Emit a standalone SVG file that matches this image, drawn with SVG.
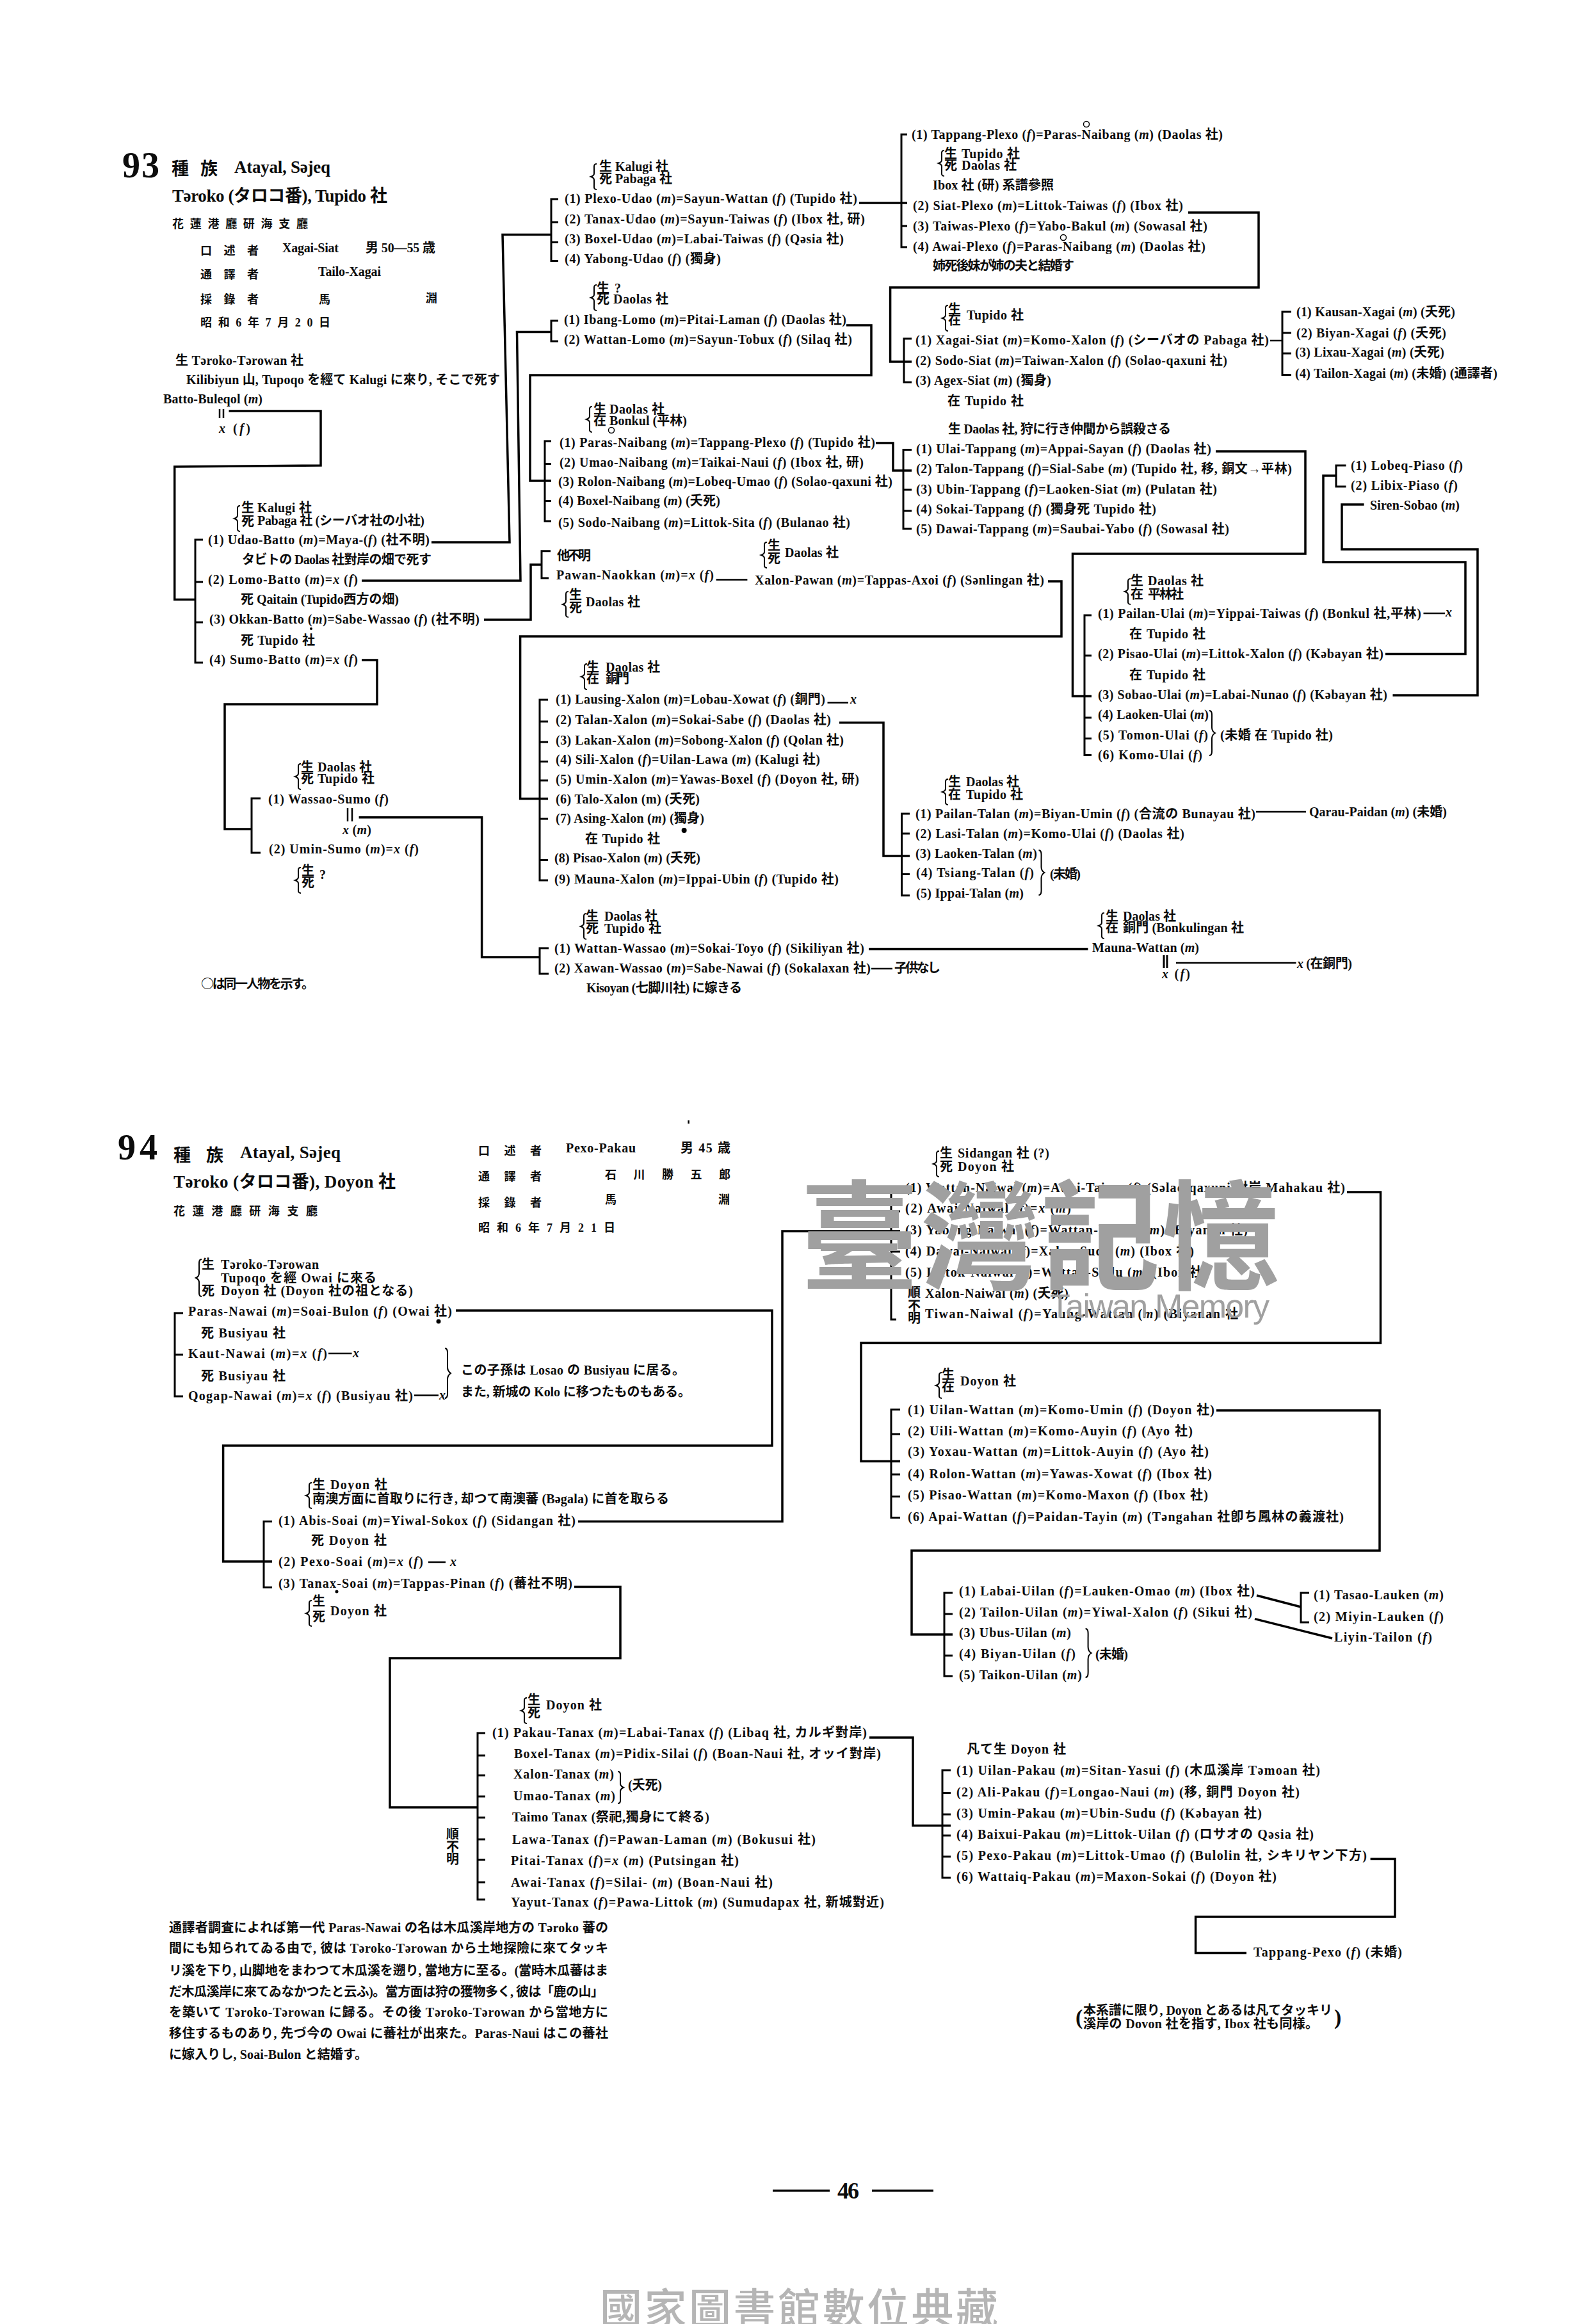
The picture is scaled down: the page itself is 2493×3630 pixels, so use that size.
<svg xmlns="http://www.w3.org/2000/svg" width="2493" height="3630" viewBox="0 0 2493 3630">
<style>
text{font-family:"Liberation Serif","Noto Sans CJK JP",serif;font-weight:700;font-size:20px;fill:#0c0c0c}
.i{font-style:italic}
.h{font-size:27px}
.m{font-size:18px}
.n{font-size:56px}
.c{stroke:#000;stroke-width:3.5;fill:none}
.b{stroke:#000;stroke-width:3;fill:none}
.l{stroke:#000;stroke-width:2.5;fill:none}
.wm{fill:#a0a0a0;font-family:"Noto Sans CJK TC",sans-serif}
.o{font-family:"Noto Sans CJK JP",sans-serif}
</style>
<defs>
<path id="lb" d="M6,-20 C1,-20 2,-16 2,-12 L2,-5 C2,-2 0,-1 -3,0 C0,1 2,2 2,5 L2,12 C2,16 1,20 6,20" stroke="#000" stroke-width="2" fill="none" vector-effect="non-scaling-stroke"/>
<path id="rb" d="M-3,-20 C2,-20 1,-16 1,-12 L1,-5 C1,-2 3,-1 6,0 C3,1 1,2 1,5 L1,12 C1,16 2,20 -3,20" stroke="#000" stroke-width="2" fill="none" vector-effect="non-scaling-stroke"/>
</defs>
<rect width="2493" height="3630" fill="#fff"/>

<g id="connectors">
<path class="c" d="M357.5,642 H501 V727 L272.7,729 V936.5 H305"/>
<path class="b" d="M317,843 H305 V1035 H317 M305,909 H317 M305,972 H317"/>
<path class="l" d="M343,639 V653 M349,639 V653"/>
<path class="c" d="M674,847 H796 L785,366.5 H862"/>
<path class="c" d="M565,907 H813 L807.5,518.6 H862"/>
<path class="c" d="M756,968 H829 V882 H846"/>
<path class="c" d="M565,1031 H589 V1100 H351 V1295 H393"/>
<path class="b" d="M872,311 H861 V407.6 H872 M861,347 H872 M861,378.6 H872"/>
<path class="b" d="M872,501 H861 V533 H872"/>
<path class="c" d="M1322,508 H1361 V586 H828 V751 H861"/>
<path class="b" d="M861,689 H851 V814 H861 M851,724.6 H861 M851,782.6 H861"/>
<path class="c" d="M1342,317 H1417"/>
<path class="b" d="M1417,210 H1408 V386 H1417 M1408,353 H1417"/>
<path class="c" d="M1856,332 H1966 V449 H1390.6 V565 H1424"/>
<path class="b" d="M1424,529 H1412 V597 H1424"/>
<path class="l" d="M1984,532 H2003"/>
<path class="b" d="M2017,487 H2003 V585.5 H2017 M2003,520 H2017 M2003,552 H2017"/>
<path class="c" d="M1368,692 H1395 V735 H1424"/>
<path class="b" d="M1424,702.6 H1411 V826 H1424 M1411,765 H1424 M1411,798 H1424"/>
<path class="c" d="M1899,705 H2039 V865 H1675.5 V1087.6 H1705"/>
<path class="b" d="M1705,961 H1694 V1179.4 H1705 M1694,1024 H1705 M1694,1121 H1705 M1694,1153.6 H1705"/>
<path class="c" d="M2164,1021.6 H2289 V878 H2067 V743 H2087"/>
<path class="b" d="M2102.5,727 H2087 V760 H2102.5"/>
<path class="c" d="M2130.6,788 H2096 V858 H2308 V1086 H2175.5"/>
<path class="l" d="M2223.5,958 H2257"/>
<path class="b" d="M860,860.7 H846 V903 H857"/>
<path class="l" d="M1118.6,905.5 H1167.4"/>
<path class="c" d="M1637,908 H1658 V994 H812.6 V1247.6 H856"/>
<path class="b" d="M856,1093 H843 V1375 H856 M843,1127 H856 M843,1159 H856 M843,1189.6 H856 M843,1219 H856 M843,1279 H856 M843,1343.5 H856"/>
<path class="l" d="M1292.5,1097.6 H1325"/>
<path class="c" d="M1311,1128.7 H1380 V1337 H1421"/>
<path class="b" d="M1421,1271 H1408.5 V1398.7 H1421 M1408.5,1302 H1421 M1408.5,1365.6 H1421"/>
<path class="l" d="M1962,1268 H2040"/>
<path class="c" d="M1357,1482.6 H1699.5"/>
<path class="l" d="M1361,1513 H1394"/>
<path class="b" d="M857,1481 H843 V1521 H857"/>
<path class="c" d="M560.6,1276.7 H752.6 V1495 H843"/>
<path class="l" d="M543,1262 V1283 M550,1262 V1283"/>
<path class="b" d="M1818,1492 V1512 M1823,1492 V1512"/>
<path class="l" d="M1837,1504 H2024.5"/>
<path class="b" d="M407,1247 H393 V1332 H407"/>
<path class="c" d="M712,2047 H1206 V2258 H348.6 V2439 H425"/>
<path class="b" d="M286,2051 H273 V2181 H286 M273,2116 H286"/>
<path class="l" d="M513,2114 H549.5 M647,2179.6 H685 M669,2440 H696"/>
<path class="b" d="M425,2376.5 H412 V2479.6 H425"/>
<path class="c" d="M903,2376.5 H1222 V1923 H1406"/>
<path class="c" d="M897,2478.6 H969 V2590 H609 V2823 H746"/>
<path class="b" d="M758,2707 H746 V2967 H758 M746,2742 H758 M746,2773 H758 M746,2806 H758 M746,2839 H758 M746,2873 H758 M746,2905 H758 M746,2940 H758"/>
<path class="c" d="M1358,2714 H1426 V2851.5 H1485"/>
<path class="b" d="M1485,2765 H1472 V2933 H1485 M1472,2800.5 H1485 M1472,2834 H1485 M1472,2867 H1485 M1472,2900 H1485"/>
<path class="c" d="M2140.6,2903.6 H2179 V2994 H1867.6 V3050.5 H1947"/>
<path class="b" d="M1406,1854 H1392 V2061 H1400 M1392,1892 H1406 M1392,1955 H1406 M1392,1985 H1406"/>
<path class="c" d="M2104,1862 H2156.5 V2097.5 H1345 V2282.5 H1406"/>
<path class="b" d="M1406,2201.7 H1392 V2370.6 H1406 M1392,2240 H1406 M1392,2303 H1406 M1392,2337.6 H1406"/>
<path class="c" d="M1900,2203 H2155 V2422 H1424 V2553 H1488"/>
<path class="b" d="M1488,2488 H1475 V2618 H1488 M1475,2521 H1488 M1475,2586 H1488"/>
<path class="c" d="M1963,2492 L2032,2510"/>
<path class="b" d="M2045,2488 H2032 V2534 H2045"/>
<path class="c" d="M1960,2528.6 L2081,2559"/>
<path class="c" d="M1207,3421.7 H1296 M1362,3421.7 H1458"/>
<path class="l" d="M1075.6,1750 V1755"/>
</g>

<g id="marks">
<circle cx="955" cy="672" r="4.5" class="l" style="stroke-width:1.5"/>
<circle cx="1697" cy="194" r="4.5" class="l" style="stroke-width:1.5"/>
<circle cx="1661" cy="371" r="4.5" class="l" style="stroke-width:1.5"/>
<circle cx="486" cy="982" r="2"/>
<circle cx="1068.6" cy="1297" r="4"/>
<circle cx="526" cy="2486" r="2.5"/>
<circle cx="685" cy="2064" r="3.5"/>
<use href="#lb" x="369" y="810"/><use href="#lb" x="926" y="276"/><use href="#lb" x="926" y="465"/><use href="#lb" x="919" y="655"/>
<use href="#lb" x="1469" y="255"/><use href="#lb" x="1475" y="497"/><use href="#lb" x="1760" y="924"/><use href="#lb" x="882" y="944"/>
<use href="#lb" x="1192" y="867"/><use href="#lb" x="911" y="1057"/><use href="#lb" x="1475" y="1237"/><use href="#lb" x="910" y="1447"/>
<use href="#lb" x="1719" y="1446"/><use href="#lb" x="464" y="1213"/><use href="#lb" x="464" y="1375"/>
<use href="#lb" transform="translate(309,1996) scale(1,1.45)"/>
<use href="#lb" x="481" y="2336"/><use href="#lb" x="481" y="2520"/><use href="#lb" x="1461" y="1818"/><use href="#lb" x="1465" y="2164"/><use href="#lb" x="817" y="2672"/>
<use href="#rb" transform="translate(1892,1145) scale(1,1.75)"/>
<use href="#rb" transform="translate(1625.5,1363) scale(1,1.75)"/>
<use href="#rb" transform="translate(698,2145) scale(1,1.95)"/>
<use href="#rb" transform="translate(1698.6,2582) scale(1,1.9)"/>
<use href="#rb" transform="translate(968,2792) scale(1,1.25)"/>
</g>

<g id="title-93">
<text class="n" x="191" y="277" textLength="58">93</text>
<text class="h" x="268" y="273" textLength="72">種族</text>
<text class="h" x="366" y="270" textLength="150">Atayal, Səjeq</text>
<text class="h" x="269" y="315" textLength="336">Təroko (タロコ番), Tupido 社</text>
<text class="m" x="269" y="356" textLength="212">花蓮港廳研海支廳</text>
<text class="m" x="313" y="398" textLength="91">口述者</text>
<text x="441" y="394" textLength="88">Xagai-Siat</text>
<text x="571" y="394" textLength="109">男 50—55 歳</text>
<text class="m" x="313" y="435" textLength="91">通譯者</text>
<text x="497" y="431" textLength="98">Tailo-Xagai</text>
<text class="m" x="313" y="474" textLength="91">採錄者</text>
<text class="m" x="498" y="474">馬</text>
<text class="m" x="665" y="472">淵</text>
<text class="m" x="313" y="510" textLength="203">昭和6年7月20日</text>
</g>

<g id="n-batto">
<text x="274" y="570" textLength="200">生 Təroko-Tərowan 社</text>
<text x="291" y="600" textLength="490">Kilibiyun 山, Tupoqo を經て Kalugi に來り, そこで死す</text>
<text x="255" y="630" textLength="155">Batto-Buleqol (<tspan class="i">m</tspan>)</text>
<text x="342" y="676" textLength="49"><tspan class="i">x</tspan> (<tspan class="i">f</tspan>)</text>
</g>
<g id="n-batto-children">
<text x="377" y="800">生</text><text x="377" y="821">死</text>
<text x="402" y="800" textLength="85">Kalugi 社</text>
<text x="402" y="820" textLength="261">Pabaga 社 (シーバオ社の小社)</text>
<text x="325" y="850" textLength="346">(1) Udao-Batto (<tspan class="i">m</tspan>)=Maya-(<tspan class="i">f</tspan>) (社不明)</text>
<text x="378" y="881" textLength="296">タビトの Daolas 社對岸の畑で死す</text>
<text x="325" y="912" textLength="234">(2) Lomo-Batto (<tspan class="i">m</tspan>)=<tspan class="i">x</tspan> (<tspan class="i">f</tspan>)</text>
<text x="376" y="943" textLength="247">死 Qaitain (Tupido西方の畑)</text>
<text x="327" y="974" textLength="422">(3) Okkan-Batto (<tspan class="i">m</tspan>)=Sabe-Wassao (<tspan class="i">f</tspan>) (社不明)</text>
<text x="376" y="1007" textLength="116">死 Tupido 社</text>
<text x="327" y="1037" textLength="232">(4) Sumo-Batto (<tspan class="i">m</tspan>)=<tspan class="i">x</tspan> (<tspan class="i">f</tspan>)</text>
</g>
<g id="n-udao">
<text x="936" y="267">生</text><text x="936" y="286">死</text>
<text x="961" y="267" textLength="83">Kalugi 社</text>
<text x="961" y="286" textLength="89">Pabaga 社</text>
<text x="882" y="317" textLength="457">(1) Plexo-Udao (<tspan class="i">m</tspan>)=Sayun-Wattan (<tspan class="i">f</tspan>) (Tupido 社)</text>
<text x="882" y="349" textLength="469">(2) Tanax-Udao (<tspan class="i">m</tspan>)=Sayun-Taiwas (<tspan class="i">f</tspan>) (Ibox 社, 研)</text>
<text x="882" y="380" textLength="436">(3) Boxel-Udao (<tspan class="i">m</tspan>)=Labai-Taiwas (<tspan class="i">f</tspan>) (Qəsia 社)</text>
<text x="882" y="411" textLength="244">(4) Yabong-Udao (<tspan class="i">f</tspan>) (獨身)</text>
</g>
<g id="n-lomo">
<text x="932" y="457">生</text><text x="932" y="474">死</text>
<text x="960" y="457">?</text>
<text x="958" y="474" textLength="86">Daolas 社</text>
<text x="881" y="506" textLength="441">(1) Ibang-Lomo (<tspan class="i">m</tspan>)=Pitai-Laman (<tspan class="i">f</tspan>) (Daolas 社)</text>
<text x="881" y="537" textLength="450">(2) Wattan-Lomo (<tspan class="i">m</tspan>)=Sayun-Tobux (<tspan class="i">f</tspan>) (Silaq 社)</text>
</g>
<g id="n-naibang">
<text x="927" y="646">生</text><text x="927" y="664">在</text>
<text x="952" y="646" textLength="86">Daolas 社</text>
<text x="952" y="664" textLength="121">Bonkul (平林)</text>
<text x="874" y="698" textLength="493">(1) Paras-Naibang (<tspan class="i">m</tspan>)=Tappang-Plexo (<tspan class="i">f</tspan>) (Tupido 社)</text>
<text x="874" y="729" textLength="475">(2) Umao-Naibang (<tspan class="i">m</tspan>)=Taikai-Naui (<tspan class="i">f</tspan>) (Ibox 社, 研)</text>
<text x="872" y="759" textLength="522">(3) Rolon-Naibang (<tspan class="i">m</tspan>)=Lobeq-Umao (<tspan class="i">f</tspan>) (Solao-qaxuni 社)</text>
<text x="872" y="789" textLength="253">(4) Boxel-Naibang (<tspan class="i">m</tspan>) (夭死)</text>
<text x="872" y="823" textLength="456">(5) Sodo-Naibang (<tspan class="i">m</tspan>)=Littok-Sita (<tspan class="i">f</tspan>) (Bulanao 社)</text>
</g>
<g id="n-plexo">
<text x="1424" y="217" textLength="486">(1) Tappang-Plexo (<tspan class="i">f</tspan>)=Paras-Naibang (<tspan class="i">m</tspan>) (Daolas 社)</text>
<text x="1475" y="247">生</text><text x="1475" y="265">死</text>
<text x="1502" y="247" textLength="91">Tupido 社</text>
<text x="1502" y="265" textLength="86">Daolas 社</text>
<text x="1457" y="296" textLength="189">Ibox 社 (研) 系譜參照</text>
<text x="1426" y="328" textLength="422">(2) Siat-Plexo (<tspan class="i">m</tspan>)=Littok-Taiwas (<tspan class="i">f</tspan>) (Ibox 社)</text>
<text x="1426" y="360" textLength="460">(3) Taiwas-Plexo (<tspan class="i">f</tspan>)=Yabo-Bakul (<tspan class="i">m</tspan>) (Sowasal 社)</text>
<text x="1426" y="392" textLength="457">(4) Awai-Plexo (<tspan class="i">f</tspan>)=Paras-Naibang (<tspan class="i">m</tspan>) (Daolas 社)</text>
<text x="1457" y="422" textLength="221">姉死後妹が姉の夫と結婚す</text>
</g>
<g id="n-siat">
<text x="1481" y="490">生</text><text x="1481" y="507">在</text>
<text x="1510" y="499" textLength="89">Tupido 社</text>
<text x="1430" y="538" textLength="552">(1) Xagai-Siat (<tspan class="i">m</tspan>)=Komo-Xalon (<tspan class="i">f</tspan>) (シーバオの Pabaga 社)</text>
<text x="1430" y="570" textLength="487">(2) Sodo-Siat (<tspan class="i">m</tspan>)=Taiwan-Xalon (<tspan class="i">f</tspan>) (Solao-qaxuni 社)</text>
<text x="1430" y="601" textLength="212">(3) Agex-Siat (<tspan class="i">m</tspan>) (獨身)</text>
<text x="1480" y="633" textLength="119">在 Tupido 社</text>
</g>
<g id="n-xagai">
<text x="2025" y="494" textLength="248">(1) Kausan-Xagai (<tspan class="i">m</tspan>) (夭死)</text>
<text x="2025" y="527" textLength="234">(2) Biyan-Xagai (<tspan class="i">f</tspan>) (夭死)</text>
<text x="2023" y="557" textLength="233">(3) Lixau-Xagai (<tspan class="i">m</tspan>) (夭死)</text>
<text x="2023" y="590" textLength="316">(4) Tailon-Xagai (<tspan class="i">m</tspan>) (未婚) (通譯者)</text>
</g>
<g id="n-tappang">
<text x="1481" y="677" textLength="348">生 Daolas 社, 狩に行き仲間から誤殺さる</text>
<text x="1431" y="708" textLength="461">(1) Ulai-Tappang (<tspan class="i">m</tspan>)=Appai-Sayan (<tspan class="i">f</tspan>) (Daolas 社)</text>
<text x="1431" y="739" textLength="587">(2) Talon-Tappang (<tspan class="i">f</tspan>)=Sial-Sabe (<tspan class="i">m</tspan>) (Tupido 社, 移, 銅文→平林)</text>
<text x="1431" y="771" textLength="470">(3) Ubin-Tappang (<tspan class="i">f</tspan>)=Laoken-Siat (<tspan class="i">m</tspan>) (Pulatan 社)</text>
<text x="1431" y="802" textLength="375">(4) Sokai-Tappang (<tspan class="i">f</tspan>) (獨身死 Tupido 社)</text>
<text x="1431" y="833" textLength="489">(5) Dawai-Tappang (<tspan class="i">m</tspan>)=Saubai-Yabo (<tspan class="i">f</tspan>) (Sowasal 社)</text>
</g>
<g id="n-piaso">
<text x="2110" y="734" textLength="175">(1) Lobeq-Piaso (<tspan class="i">f</tspan>)</text>
<text x="2110" y="765" textLength="167">(2) Libix-Piaso (<tspan class="i">f</tspan>)</text>
<text x="2140" y="796" textLength="140">Siren-Sobao (<tspan class="i">m</tspan>)</text>
</g>
<g id="n-ulai">
<text x="1766" y="914">生</text><text x="1766" y="935">在</text>
<text x="1793" y="914" textLength="87">Daolas 社</text>
<text x="1793" y="935" textLength="56">平林社</text>
<text x="1715" y="965" textLength="505">(1) Pailan-Ulai (<tspan class="i">m</tspan>)=Yippai-Taiwas (<tspan class="i">f</tspan>) (Bonkul 社,平林)</text>
<text x="2258" y="963"><tspan class="i">x</tspan></text>
<text x="1764" y="997" textLength="119">在 Tupido 社</text>
<text x="1715" y="1028" textLength="446">(2) Pisao-Ulai (<tspan class="i">m</tspan>)=Littok-Xalon (<tspan class="i">f</tspan>) (Kəbayan 社)</text>
<text x="1764" y="1061" textLength="119">在 Tupido 社</text>
<text x="1715" y="1092" textLength="452">(3) Sobao-Ulai (<tspan class="i">m</tspan>)=Labai-Nunao (<tspan class="i">f</tspan>) (Kəbayan 社)</text>
<text x="1715" y="1123" textLength="173">(4) Laoken-Ulai (<tspan class="i">m</tspan>)</text>
<text x="1715" y="1155" textLength="172">(5) Tomon-Ulai (<tspan class="i">f</tspan>)</text>
<text x="1715" y="1186" textLength="163">(6) Komo-Ulai (<tspan class="i">f</tspan>)</text>
<text x="1906" y="1155" textLength="176">(未婚 在 Tupido 社)</text>
</g>
<g id="n-pawan">
<text x="870" y="875" textLength="53">他不明</text>
<text x="869" y="905" textLength="246">Pawan-Naokkan (<tspan class="i">m</tspan>)=<tspan class="i">x</tspan> (<tspan class="i">f</tspan>)</text>
<text x="889" y="936">生</text><text x="889" y="956">死</text>
<text x="915" y="947" textLength="85">Daolas 社</text>
</g>
<g id="n-xalon-pawan">
<text x="1199" y="859">生</text><text x="1199" y="879">死</text>
<text x="1226" y="870" textLength="84">Daolas 社</text>
<text x="1179" y="913" textLength="452">Xalon-Pawan (<tspan class="i">m</tspan>)=Tappas-Axoi (<tspan class="i">f</tspan>) (Sənlingan 社)</text>
</g>
<g id="n-xalon">
<text x="916" y="1049">生</text><text x="916" y="1067">在</text>
<text x="946" y="1049" textLength="85">Daolas 社</text>
<text x="946" y="1067" textLength="37">銅門</text>
<text x="868" y="1099" textLength="421">(1) Lausing-Xalon (<tspan class="i">m</tspan>)=Lobau-Xowat (<tspan class="i">f</tspan>) (銅門)</text>
<text x="1328" y="1099"><tspan class="i">x</tspan></text>
<text x="868" y="1131" textLength="430">(2) Talan-Xalon (<tspan class="i">m</tspan>)=Sokai-Sabe (<tspan class="i">f</tspan>) (Daolas 社)</text>
<text x="868" y="1163" textLength="450">(3) Lakan-Xalon (<tspan class="i">m</tspan>)=Sobong-Xalon (<tspan class="i">f</tspan>) (Qolan 社)</text>
<text x="868" y="1193" textLength="413">(4) Sili-Xalon (<tspan class="i">f</tspan>)=Uilan-Lawa (<tspan class="i">m</tspan>) (Kalugi 社)</text>
<text x="868" y="1224" textLength="474">(5) Umin-Xalon (<tspan class="i">m</tspan>)=Yawas-Boxel (<tspan class="i">f</tspan>) (Doyon 社, 研)</text>
<text x="868" y="1255" textLength="225">(6) Talo-Xalon (m) (夭死)</text>
<text x="868" y="1285" textLength="232">(7) Asing-Xalon (<tspan class="i">m</tspan>) (獨身)</text>
<text x="914" y="1317" textLength="117">在 Tupido 社</text>
<text x="866" y="1347" textLength="228">(8) Pisao-Xalon (<tspan class="i">m</tspan>) (夭死)</text>
<text x="866" y="1380" textLength="444">(9) Mauna-Xalon (<tspan class="i">m</tspan>)=Ippai-Ubin (<tspan class="i">f</tspan>) (Tupido 社)</text>
</g>
<g id="n-talan">
<text x="1481" y="1228">生</text><text x="1481" y="1248">在</text>
<text x="1509" y="1228" textLength="83">Daolas 社</text>
<text x="1509" y="1248" textLength="89">Tupido 社</text>
<text x="1430" y="1278" textLength="531">(1) Pailan-Talan (<tspan class="i">m</tspan>)=Biyan-Umin (<tspan class="i">f</tspan>) (合流の Bunayau 社)</text>
<text x="1430" y="1309" textLength="420">(2) Lasi-Talan (<tspan class="i">m</tspan>)=Komo-Ulai (<tspan class="i">f</tspan>) (Daolas 社)</text>
<text x="1430" y="1340" textLength="190">(3) Laoken-Talan (<tspan class="i">m</tspan>)</text>
<text x="1431" y="1370" textLength="184">(4) Tsiang-Talan (<tspan class="i">f</tspan>)</text>
<text x="1431" y="1402" textLength="168">(5) Ippai-Talan (<tspan class="i">m</tspan>)</text>
<text x="1640" y="1372" textLength="48">(未婚)</text>
<text x="2045" y="1275" textLength="215">Qarau-Paidan (<tspan class="i">m</tspan>) (未婚)</text>
</g>
<g id="n-wassao">
<text x="915" y="1438">生</text><text x="915" y="1457">死</text>
<text x="944" y="1438" textLength="83">Daolas 社</text>
<text x="944" y="1457" textLength="89">Tupido 社</text>
<text x="866" y="1488" textLength="484">(1) Wattan-Wassao (<tspan class="i">m</tspan>)=Sokai-Toyo (<tspan class="i">f</tspan>) (Sikiliyan 社)</text>
<text x="866" y="1519" textLength="494">(2) Xawan-Wassao (<tspan class="i">m</tspan>)=Sabe-Nawai (<tspan class="i">f</tspan>) (Sokalaxan 社)</text>
<text x="1397" y="1519" textLength="72">子供なし</text>
<text x="916" y="1550" textLength="243">Kisoyan (七脚川社) に嫁きる</text>
</g>
<g id="n-mauna">
<text x="1727" y="1438">生</text><text x="1727" y="1456">在</text>
<text x="1754" y="1438" textLength="83">Daolas 社</text>
<text x="1754" y="1456" textLength="189">銅門 (Bonkulingan 社</text>
<text x="1706" y="1487" textLength="167">Mauna-Wattan (<tspan class="i">m</tspan>)</text>
<text x="1815" y="1528" textLength="44"><tspan class="i">x</tspan> (<tspan class="i">f</tspan>)</text>
<text x="2026" y="1512" textLength="86"><tspan class="i">x</tspan> (在銅門)</text>
</g>
<g id="n-sumo">
<text x="470" y="1205">生</text><text x="470" y="1223">死</text>
<text x="496" y="1205" textLength="85">Daolas 社</text>
<text x="496" y="1223" textLength="89">Tupido 社</text>
<text x="419" y="1255" textLength="188">(1) Wassao-Sumo (<tspan class="i">f</tspan>)</text>
<text x="535" y="1303" textLength="45"><tspan class="i">x</tspan> (<tspan class="i">m</tspan>)</text>
<text x="420" y="1333" textLength="234">(2) Umin-Sumo (<tspan class="i">m</tspan>)=<tspan class="i">x</tspan> (<tspan class="i">f</tspan>)</text>
<text x="471" y="1367">生</text><text x="471" y="1385">死</text>
<text x="499" y="1373">?</text>
</g>
<g id="note-93"><text class="o" x="314" y="1544" textLength="177">○は同一人物を示す。</text></g>

<g id="title-94">
<text class="n" x="184" y="1811" textLength="62">94</text>
<text class="h" x="271" y="1814" textLength="78">種族</text>
<text class="h" x="375" y="1809" textLength="157">Atayal, Səjeq</text>
<text class="h" x="271" y="1855" textLength="347">Təroko (タロコ番), Doyon 社</text>
<text class="m" x="271" y="1898" textLength="225">花蓮港廳研海支廳</text>
<text class="m" x="747" y="1804" textLength="99">口述者</text>
<text x="884" y="1800" textLength="109">Pexo-Pakau</text>
<text x="1063" y="1800" textLength="78">男 45 歳</text>
<text class="m" x="747" y="1844" textLength="99">通譯者</text>
<text class="m" x="945" y="1841" textLength="196">石川勝五郎</text>
<text class="m" x="747" y="1885" textLength="99">採錄者</text>
<text class="m" x="945" y="1880">馬</text>
<text class="m" x="1122" y="1880">淵</text>
<text class="m" x="747" y="1924" textLength="214">昭和6年7月21日</text>
</g>
<g id="n-nawai">
<text x="315" y="1982">生</text><text x="315" y="2023">死</text>
<text x="345" y="1982" textLength="153">Təroko-Tərowan</text>
<text x="345" y="2003" textLength="243">Tupoqo を經 Owai に來る</text>
<text x="345" y="2023" textLength="300">Doyon 社 (Doyon 社の祖となる)</text>
<text x="294" y="2055" textLength="412">Paras-Nawai (<tspan class="i">m</tspan>)=Soai-Bulon (<tspan class="i">f</tspan>) (Owai 社)</text>
<text x="314" y="2089" textLength="132">死 Busiyau 社</text>
<text x="294" y="2121" textLength="217">Kaut-Nawai (<tspan class="i">m</tspan>)=<tspan class="i">x</tspan> (<tspan class="i">f</tspan>)</text>
<text x="551" y="2120"><tspan class="i">x</tspan></text>
<text x="314" y="2156" textLength="132">死 Busiyau 社</text>
<text x="294" y="2187" textLength="351">Qogap-Nawai (<tspan class="i">m</tspan>)=<tspan class="i">x</tspan> (<tspan class="i">f</tspan>) (Busiyau 社)</text>
<text x="686" y="2186"><tspan class="i">x</tspan></text>
<text x="720" y="2147" textLength="350">この子孫は Losao の Busiyau に居る。</text>
<text x="720" y="2181" textLength="359">また, 新城の Kolo に移つたものもある。</text>
</g>
<g id="n-soai">
<text x="488" y="2326">生</text>
<text x="516" y="2326" textLength="89">Doyon 社</text>
<text x="488" y="2348" textLength="557">南澳方面に首取りに行き, 却つて南澳蕃 (Bəgala) に首を取らる</text>
<text x="435" y="2382" textLength="464">(1) Abis-Soai (<tspan class="i">m</tspan>)=Yiwal-Sokox (<tspan class="i">f</tspan>) (Sidangan 社)</text>
<text x="486" y="2413" textLength="118">死 Doyon 社</text>
<text x="435" y="2446" textLength="226">(2) Pexo-Soai (<tspan class="i">m</tspan>)=<tspan class="i">x</tspan> (<tspan class="i">f</tspan>)</text>
<text x="703" y="2446"><tspan class="i">x</tspan></text>
<text x="435" y="2480" textLength="459">(3) Tanax-Soai (<tspan class="i">m</tspan>)=Tappas-Pinan (<tspan class="i">f</tspan>) (蕃社不明)</text>
<text x="488" y="2508">生</text><text x="488" y="2532">死</text>
<text x="516" y="2523" textLength="88">Doyon 社</text>
</g>
<g id="n-naiwal">
<text x="1468" y="1808">生</text><text x="1468" y="1829">死</text>
<text x="1496" y="1808" textLength="143">Sidangan 社 (?)</text>
<text x="1496" y="1829" textLength="88">Doyon 社</text>
<text x="1414" y="1862" textLength="687">(1) Wattan-Naiwal (<tspan class="i">m</tspan>)=Awai-Taimo (<tspan class="i">f</tspan>) (Səlao-qaxuni 對岸 Mahakau 社)</text>
<text x="1414" y="1894" textLength="259">(2) Awai-Naiwal (<tspan class="i">f</tspan>)=<tspan class="i">x</tspan> (<tspan class="i">m</tspan>)</text>
<text x="1414" y="1928" textLength="535">(3) Yabong-Naiwal (<tspan class="i">f</tspan>)=Wattan-Kumai (<tspan class="i">m</tspan>) (Biyanan 社)</text>
<text x="1414" y="1961" textLength="451">(4) Dawai-Naiwal (<tspan class="i">f</tspan>)=Xalon-Sudu (<tspan class="i">m</tspan>) (Ibox 社)</text>
<text x="1414" y="1994" textLength="472">(5) Littok-Naiwal (<tspan class="i">f</tspan>)=Wattan-Sudu (<tspan class="i">m</tspan>) (Ibox 社)</text>
<text x="1418" y="2026">順</text><text x="1418" y="2047">不</text><text x="1418" y="2066">明</text>
<text x="1445" y="2027" textLength="224">Xalon-Naiwal (<tspan class="i">m</tspan>) (夭死)</text>
<text x="1445" y="2059" textLength="489">Tiwan-Naiwal (<tspan class="i">f</tspan>)=Yaung-Wattan (<tspan class="i">m</tspan>) (Biyanan 社</text>
</g>
<g id="n-wattan">
<text x="1471" y="2154">生</text><text x="1471" y="2173">在</text>
<text x="1500" y="2164" textLength="87">Doyon 社</text>
<text x="1418" y="2209" textLength="479">(1) Uilan-Wattan (<tspan class="i">m</tspan>)=Komo-Umin (<tspan class="i">f</tspan>) (Doyon 社)</text>
<text x="1418" y="2242" textLength="445">(2) Uili-Wattan (<tspan class="i">m</tspan>)=Komo-Auyin (<tspan class="i">f</tspan>) (Ayo 社)</text>
<text x="1418" y="2274" textLength="470">(3) Yoxau-Wattan (<tspan class="i">m</tspan>)=Littok-Auyin (<tspan class="i">f</tspan>) (Ayo 社)</text>
<text x="1418" y="2309" textLength="475">(4) Rolon-Wattan (<tspan class="i">m</tspan>)=Yawas-Xowat (<tspan class="i">f</tspan>) (Ibox 社)</text>
<text x="1418" y="2342" textLength="469">(5) Pisao-Wattan (<tspan class="i">m</tspan>)=Komo-Maxon (<tspan class="i">f</tspan>) (Ibox 社)</text>
<text x="1418" y="2376" textLength="681">(6) Apai-Wattan (<tspan class="i">f</tspan>)=Paidan-Tayin (<tspan class="i">m</tspan>) (Təngahan 社卽ち鳳林の義渡社)</text>
</g>
<g id="n-uilan">
<text x="1498" y="2492" textLength="462">(1) Labai-Uilan (<tspan class="i">f</tspan>)=Lauken-Omao (<tspan class="i">m</tspan>) (Ibox 社)</text>
<text x="1498" y="2525" textLength="458">(2) Tailon-Uilan (<tspan class="i">m</tspan>)=Yiwal-Xalon (<tspan class="i">f</tspan>) (Sikui 社)</text>
<text x="1498" y="2557" textLength="175">(3) Ubus-Uilan (<tspan class="i">m</tspan>)</text>
<text x="1498" y="2590" textLength="182">(4) Biyan-Uilan (<tspan class="i">f</tspan>)</text>
<text x="1498" y="2623" textLength="192">(5) Taikon-Uilan (<tspan class="i">m</tspan>)</text>
<text x="1711" y="2591" textLength="51">(未婚)</text>
<text x="2052" y="2498" textLength="203">(1) Tasao-Lauken (<tspan class="i">m</tspan>)</text>
<text x="2052" y="2532" textLength="203">(2) Miyin-Lauken (<tspan class="i">f</tspan>)</text>
<text x="2084" y="2564" textLength="153">Liyin-Tailon (<tspan class="i">f</tspan>)</text>
</g>
<g id="n-tanax">
<text x="824" y="2662">生</text><text x="824" y="2682">死</text>
<text x="853" y="2670" textLength="87">Doyon 社</text>
<text x="769" y="2713" textLength="585">(1) Pakau-Tanax (<tspan class="i">m</tspan>)=Labai-Tanax (<tspan class="i">f</tspan>) (Libaq 社, カルギ對岸)</text>
<text x="803" y="2746" textLength="573">Boxel-Tanax (<tspan class="i">m</tspan>)=Pidix-Silai (<tspan class="i">f</tspan>) (Boan-Naui 社, オッイ對岸)</text>
<text x="802" y="2778" textLength="157">Xalon-Tanax (<tspan class="i">m</tspan>)</text>
<text x="802" y="2812" textLength="159">Umao-Tanax (<tspan class="i">m</tspan>)</text>
<text x="981" y="2795" textLength="53">(夭死)</text>
<text x="800" y="2845" textLength="308">Taimo Tanax (祭祀,獨身にて終る)</text>
<text x="800" y="2880" textLength="474">Lawa-Tanax (<tspan class="i">f</tspan>)=Pawan-Laman (<tspan class="i">m</tspan>) (Bokusui 社)</text>
<text x="798" y="2913" textLength="356">Pitai-Tanax (<tspan class="i">f</tspan>)=<tspan class="i">x</tspan> (<tspan class="i">m</tspan>) (Putsingan 社)</text>
<text x="798" y="2947" textLength="409">Awai-Tanax (<tspan class="i">f</tspan>)=Silai- (<tspan class="i">m</tspan>) (Boan-Naui 社)</text>
<text x="798" y="2978" textLength="583">Yayut-Tanax (<tspan class="i">f</tspan>)=Pawa-Littok (<tspan class="i">m</tspan>) (Sumudapax 社, 新城對近)</text>
<text x="697" y="2872">順</text><text x="697" y="2892">不</text><text x="697" y="2911">明</text>
</g>
<g id="n-pakau">
<text x="1510" y="2739" textLength="155">凡て生 Doyon 社</text>
<text x="1494" y="2772" textLength="568">(1) Uilan-Pakau (<tspan class="i">m</tspan>)=Sitan-Yasui (<tspan class="i">f</tspan>) (木瓜溪岸 Təmoan 社)</text>
<text x="1494" y="2806" textLength="536">(2) Ali-Pakau (<tspan class="i">f</tspan>)=Longao-Naui (<tspan class="i">m</tspan>) (移, 銅門 Doyon 社)</text>
<text x="1494" y="2839" textLength="477">(3) Umin-Pakau (<tspan class="i">m</tspan>)=Ubin-Sudu (<tspan class="i">f</tspan>) (Kəbayan 社)</text>
<text x="1494" y="2872" textLength="558">(4) Baixui-Pakau (<tspan class="i">m</tspan>)=Littok-Uilan (<tspan class="i">f</tspan>) (ロサオの Qəsia 社)</text>
<text x="1494" y="2905" textLength="641">(5) Pexo-Pakau (<tspan class="i">m</tspan>)=Littok-Umao (<tspan class="i">f</tspan>) (Bulolin 社, シキリヤン下方)</text>
<text x="1494" y="2938" textLength="500">(6) Wattaiq-Pakau (<tspan class="i">m</tspan>)=Maxon-Sokai (<tspan class="i">f</tspan>) (Doyon 社)</text>
<text x="1958" y="3056" textLength="232">Tappang-Pexo (<tspan class="i">f</tspan>) (未婚)</text>
</g>
<g id="note-94">
<text x="1680" y="3162" style="font-size:34px">(</text>
<text x="1692" y="3147" textLength="389">本系譜に限り, Doyon とあるは凡てタッキリ</text>
<text x="1692" y="3168" textLength="367">溪岸の Dovon 社を指す, Ibox 社も同様。</text>
<text x="2084" y="3162" style="font-size:34px">)</text>
</g>
<g id="paragraph">
<text x="264" y="3018" textLength="686">通譯者調査によれば第一代 Paras-Nawai の名は木瓜溪岸地方の Təroko 蕃の</text>
<text x="264" y="3050" textLength="686">間にも知られてゐる由で, 彼は Təroko-Tərowan から土地探險に來てタッキ</text>
<text x="264" y="3085" textLength="686">リ溪を下り, 山脚地をまわつて木瓜溪を遡り, 當地方に至る。(當時木瓜蕃はま</text>
<text x="264" y="3118" textLength="679">だ木瓜溪岸に來てゐなかつたと云ふ)。當方面は狩の獲物多く, 彼は「鹿の山」</text>
<text x="264" y="3150" textLength="686">を築いて Təroko-Tərowan に歸る。その後 Təroko-Tərowan から當地方に</text>
<text x="264" y="3183" textLength="686">移住するものあり, 先づ今の Owai に蕃社が出來た。Paras-Naui はこの蕃社</text>
<text x="264" y="3216" textLength="310">に嫁入りし, Soai-Bulon と結婚す。</text>
</g>
<g id="page-number"><text x="1308" y="3434" textLength="34" style="font-size:36px">46</text></g>
<g id="watermarks">
<text class="wm" x="1250" y="2000" textLength="750" style="font-size:185px;font-weight:700">臺灣記憶</text>
<text class="wm" x="1640" y="2058" textLength="343" style="font-size:52px;font-weight:400;font-family:'Liberation Sans',sans-serif">Taiwan Memory</text>
<text class="wm" x="937" y="3630" textLength="622" style="font-size:66px;font-weight:500;fill:#b5b5b5">國家圖書館數位典藏</text>
</g>
</svg>
